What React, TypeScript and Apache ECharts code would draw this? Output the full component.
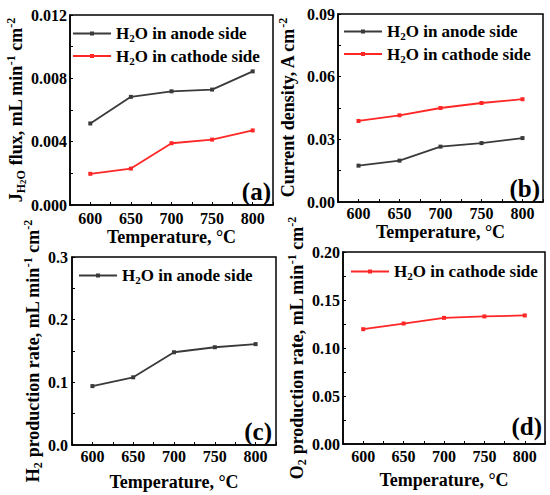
import React, { useEffect, useRef } from "react";
import * as echarts from "echarts";

const temps = [600, 650, 700, 750, 800];
const xTicks = [600, 650, 700, 750, 800];

const fluxAnode = [0.00515, 0.00683, 0.00718, 0.00729, 0.00844];
const fluxCathode = [0.00197, 0.0023, 0.0039, 0.00413, 0.00471];
const currentAnode = [0.0174, 0.0198, 0.0265, 0.0282, 0.0306];
const currentCathode = [0.0388, 0.0415, 0.045, 0.0474, 0.0492];
const h2Rate = [0.094, 0.108, 0.148, 0.156, 0.161];
const o2Rate = [0.1196, 0.1255, 0.1314, 0.1329, 0.1339];

const yTicksA = [0, 0.004, 0.008, 0.012];
const yTicksB = [0, 0.03, 0.06, 0.09];
const yTicksC = [0, 0.1, 0.2, 0.3];
const yTicksD = [0, 0.05, 0.1, 0.15, 0.2];

const ANODE = "H2O in anode side";
const CATHODE = "H2O in cathode side";
const legendRich: Record<string, string> = {
  [ANODE]: "{n|H}{s|2}{n|O in anode side}",
  [CATHODE]: "{n|H}{s|2}{n|O in cathode side}",
};

const FONT = "'Times New Roman', 'Liberation Serif', serif";
const BLACK = "#3a3a3a";
const RED = "#ff2626";

const yNames = [
  "{n|J}{sub|H}{subsub|2}{sub|O}{n| flux, mL min}{sup|-1}{n| cm}{sup|-2}",
  "{n|Current density, A cm}{sup|-2}",
  "{n|H}{sub|2}{n| production rate, mL min}{sup|-1}{n| cm}{sup|-2}",
  "{n|O}{sub|2}{n| production rate, mL min}{sup|-1}{n| cm}{sup|-2}",
];

const nameRich = {
  n: { fontSize: 18, fontWeight: "bold", fontFamily: FONT, color: "#000", lineHeight: 22 },
  sub: { fontSize: 12, fontWeight: "bold", fontFamily: FONT, color: "#000", lineHeight: 12, verticalAlign: "bottom" },
  subsub: { fontSize: 9, fontWeight: "bold", fontFamily: FONT, color: "#000", lineHeight: 7, verticalAlign: "bottom" },
  sup: { fontSize: 12, fontWeight: "bold", fontFamily: FONT, color: "#000", lineHeight: 12, verticalAlign: "top" },
};

const panels = [
  { grid: { left: 70, top: 15, width: 203, height: 190 }, y: [0, 0.012, 0.002], yTicks: yTicksA, dig: 3, yGap: 41, xGap: 22, xMargin: 5, yMargin: 3 },
  { grid: { left: 338, top: 14, width: 205, height: 188 }, y: [0, 0.09, 0.015], yTicks: yTicksB, dig: 2, yGap: 39, xGap: 19, xMargin: 3, yMargin: 3 },
  { grid: { left: 72, top: 257, width: 204, height: 188 }, y: [0, 0.3, 0.05], yTicks: yTicksC, dig: 1, yGap: 23, xGap: 27, xMargin: 3, yMargin: 4 },
  { grid: { left: 343, top: 252, width: 202, height: 192 }, y: [0, 0.2, 0.025], yTicks: yTicksD, dig: 2, yGap: 31, xGap: 26, xMargin: 4, yMargin: 3 },
];

const inList = (v: number, list: number[]) => list.some((t) => Math.abs(t - v) < 1e-9);

export default function App() {
  const ref = useRef<HTMLDivElement>(null);
  useEffect(() => {
    document.body.style.margin = "0";
    const chart = echarts.init(ref.current!, null, { renderer: "svg" });
    const axisLine = { show: true, lineStyle: { color: "#000", width: 1.5 } };
    const axisTick = { show: true, inside: true, length: 3, lineStyle: { color: "#000", width: 1 } };
    const labelStyle = { color: "#000", fontSize: 16, fontWeight: "bold" as const, fontFamily: FONT };

    const grids = panels.map((p) => ({
      ...p.grid,
      show: true,
      borderColor: "#000",
      borderWidth: 1.5,
      containLabel: false,
    }));
    const xAxes = panels.map((p, i) => ({
      type: "value",
      gridIndex: i,
      min: 575,
      max: 825,
      interval: 25,
      axisLine,
      axisTick,
      splitLine: { show: false },
      axisLabel: {
        ...labelStyle,
        margin: p.xMargin,
        formatter: (v: number) => (inList(v, xTicks) ? String(v) : ""),
      },
      name: "Temperature, °C",
      nameLocation: "middle",
      nameGap: p.xGap,
      nameTextStyle: { color: "#000", fontSize: 18, fontWeight: "bold", fontFamily: FONT, lineHeight: 20 },
    }));
    const yAxes = panels.map((p, i) => ({
      type: "value",
      gridIndex: i,
      min: p.y[0],
      max: p.y[1],
      interval: p.y[2],
      axisLine,
      axisTick,
      splitLine: { show: false },
      axisLabel: {
        ...labelStyle,
        margin: p.yMargin,
        formatter: (v: number) => (inList(v, p.yTicks) ? v.toFixed(p.dig) : ""),
      },
      name: yNames[i],
      nameLocation: "middle",
      nameGap: p.yGap,
      nameTextStyle: { rich: nameRich },
    }));

    const mk = (name: string, data: number[], idx: number, color: string) => ({
      type: "line",
      name,
      xAxisIndex: idx,
      yAxisIndex: idx,
      data: temps.map((t, k) => [t, data[k]]),
      symbol: "rect",
      symbolSize: 4,
      lineStyle: { color, width: 1.8 },
      itemStyle: { color },
      emphasis: { disabled: true },
    });

    const legendBase = {
      orient: "vertical",
      padding: 0,
      itemWidth: 38,
      itemHeight: 5,
      itemGap: 4,
      selectedMode: false,
      formatter: (n: string) => legendRich[n] || n,
      textStyle: {
        rich: {
          n: { fontSize: 17, fontWeight: "bold", fontFamily: FONT, color: "#000", lineHeight: 20 },
          s: { fontSize: 11, fontWeight: "bold", fontFamily: FONT, color: "#000", lineHeight: 10, verticalAlign: "bottom" },
        },
      },
    };

    const plabel = (text: string, x: number, y: number) => ({
      type: "text",
      x,
      y,
      style: {
        text,
        font: `bold 25px ${FONT}`,
        fill: "#000",
        textAlign: "right",
        textVerticalAlign: "middle",
      },
    });

    chart.setOption({
      animation: false,
      backgroundColor: "#fff",
      grid: grids,
      xAxis: xAxes,
      yAxis: yAxes,
      legend: [
        { ...legendBase, left: 72, top: 25, data: [ANODE, CATHODE] },
        { ...legendBase, left: 343, top: 23, data: [ANODE, CATHODE] },
        { ...legendBase, left: 78, top: 267, data: [ANODE] },
        { ...legendBase, left: 350, top: 263, data: [CATHODE] },
      ],
      series: [
        mk(ANODE, fluxAnode, 0, BLACK),
        mk(CATHODE, fluxCathode, 0, RED),
        mk(ANODE, currentAnode, 1, BLACK),
        mk(CATHODE, currentCathode, 1, RED),
        mk(ANODE, h2Rate, 2, BLACK),
        mk(CATHODE, o2Rate, 3, RED),
      ],
      graphic: [
        plabel("(a)", 271, 191),
        plabel("(b)", 540, 188),
        plabel("(c)", 272, 431),
        plabel("(d)", 542, 426),
      ],
    });
    return () => chart.dispose();
  }, []);
  return <div ref={ref} style={{ width: 550, height: 495 }} />;
}
